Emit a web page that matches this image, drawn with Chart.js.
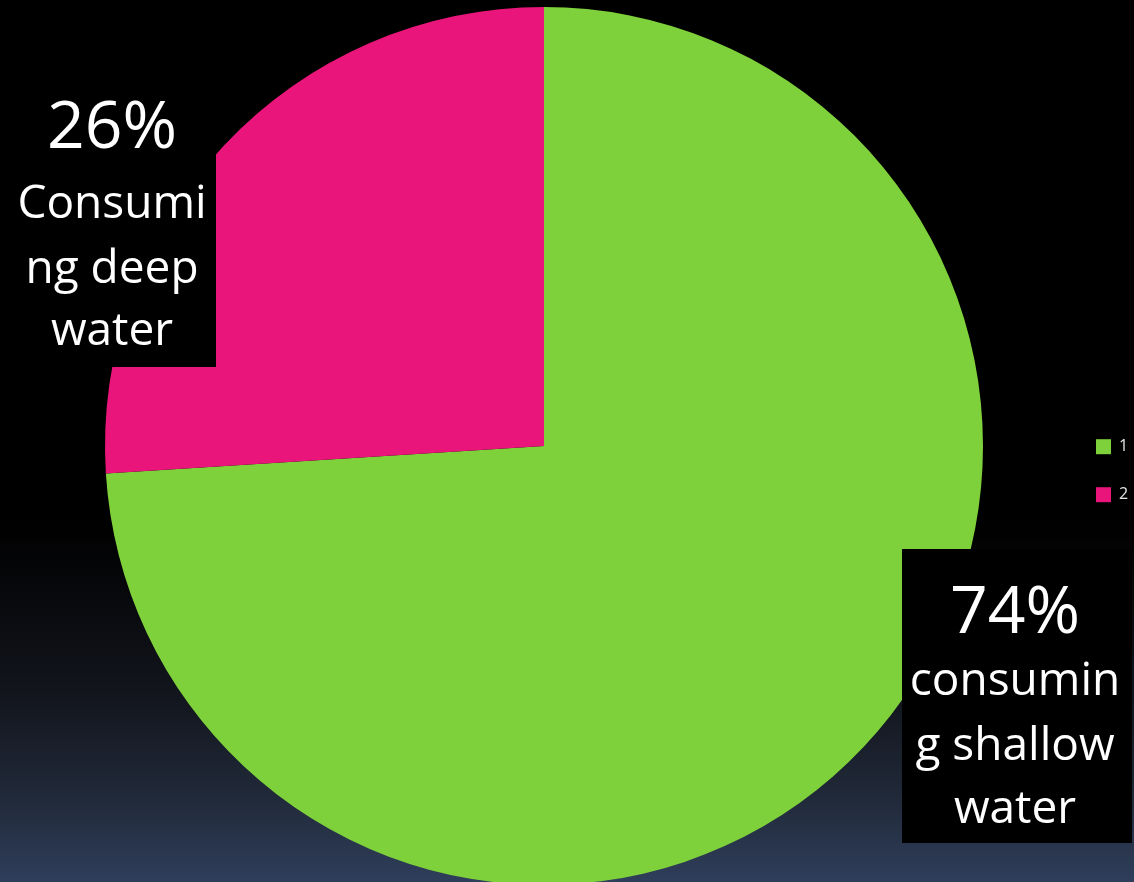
<!DOCTYPE html>
<html>
<head>
<meta charset="utf-8">
<title>Consumo de agua</title>
<script src="https://cdn.jsdelivr.net/npm/chart.js@4.4.1/dist/chart.umd.min.js"></script>
<style>
    html, body { margin: 0; padding: 0; width: 1134px; height: 882px; overflow: hidden; }
    body {
        background: linear-gradient(to bottom, #000 0px, #000 520px, #07080b 590px,
            #13161e 700px, #212a3a 800px, #2f3e5b 882px);
    }
    #contenedor { position: relative; width: 1134px; height: 892px; }
</style>
</head>
<body>
<div id="contenedor"><canvas id="chart_agua"></canvas></div>
<script>
// Datos del gráfico
const etiquetas = ['1', '2'];
const porcentajes = [74, 26];
const colores = ['#7FD13B', '#EA157A'];
const descripciones = [
    ['consumin', 'g shallow', 'water'],
    ['Consumi', 'ng deep', 'water']
];

// Cajas negras de rótulo, posicionadas respecto al centro del pastel (px)
const cajasRotulo = [
    { x0: 358, y0: 103, x1: 588, y1: 397, tx: 471, base: [187, 249, 314, 377] },
    { x0: -536, y0: -358, x1: -328, y1: -79, tx: -432, base: [-298, -228, -163, -101] }
];

/** Dibuja las cajas con el porcentaje y la descripción de cada porción */
const rotulosPlugin = {
    id: 'rotulos',
    afterDatasetsDraw(chart) {
        const arcos = chart.getDatasetMeta(0).data;
        const ctx = chart.ctx;
        ctx.save();
        arcos.forEach((arco, i) => {
            const c = cajasRotulo[i];
            const cx = arco.x, cy = arco.y;
            ctx.fillStyle = '#000';
            ctx.fillRect(cx + c.x0, cy + c.y0, c.x1 - c.x0, c.y1 - c.y0);
            ctx.fillStyle = '#fff';
            ctx.textAlign = 'center';
            ctx.textBaseline = 'alphabetic';
            ctx.font = '66px "Open Sans"';
            ctx.fillText(porcentajes[i] + '%', cx + c.tx, cy + c.base[0]);
            ctx.font = '46px "Open Sans"';
            descripciones[i].forEach((linea, j) => ctx.fillText(linea, cx + c.tx, cy + c.base[j + 1]));
        });
        ctx.restore();
    }
};

new Chart(document.getElementById('chart_agua'), {
    type: 'pie',
    data: {
        labels: etiquetas,
        datasets: [{ data: porcentajes, backgroundColor: colores, borderWidth: 0, radius: 439 }]
    },
    options: {
        responsive: true,
        maintainAspectRatio: false,
        animation: false,
        layout: { padding: { left: 24 } },
        plugins: {
            tooltip: { enabled: false },
            legend: {
                position: 'right',
                maxWidth: 70,
                title: { display: true, text: '', padding: { top: 35, bottom: 0 } },
                labels: { color: '#e6e6e6', font: { family: 'Open Sans', size: 16 }, boxWidth: 15, boxHeight: 15, padding: 32 }
            }
        }
    },
    plugins: [rotulosPlugin]
});
</script>
</body>
</html>
